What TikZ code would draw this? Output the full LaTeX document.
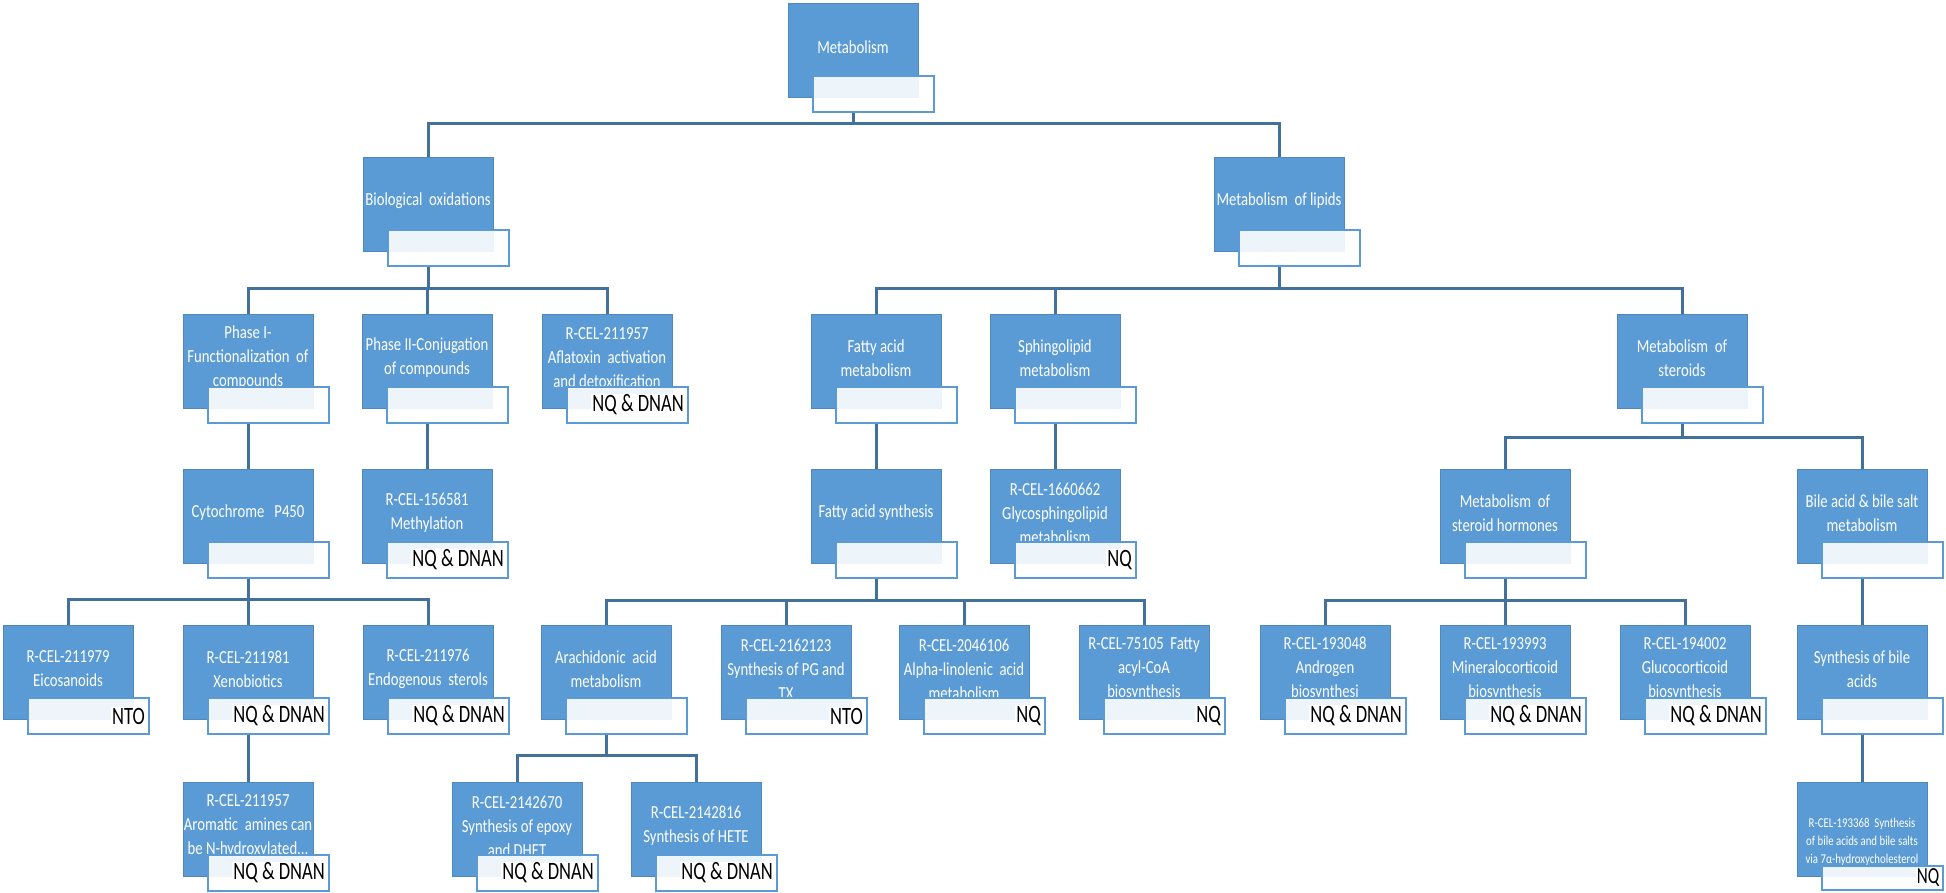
\documentclass[tikz,border=0pt]{standalone}
\usepackage{fontspec}
\setmainfont{Carlito}
\newfontfamily\bxfont[FakeStretch=0.8]{Carlito}
\newfontfamily\lbfont[FakeStretch=0.74]{Carlito}
\definecolor{boxblue}{RGB}{91,155,213}
\definecolor{lineblue}{RGB}{65,113,156}
\tikzset{
 bluebox/.style={fill=boxblue, draw=boxblue!88!black, line width=0.8pt, minimum width=130pt, minimum height=94pt, inner sep=0pt},
 btext/.style={text=white, align=center, font=\bxfont\fontsize{18.4}{24}\selectfont, inner sep=0pt},
 whitebox/.style={fill=white, fill opacity=0.9, draw=boxblue, line width=2.5pt, minimum width=121pt, minimum height=36pt, inner sep=0pt},
 lbl/.style={font=\lbfont\fontsize{25}{25}\selectfont, fill=white, text=black, inner sep=1pt, anchor=east},
 conn/.style={draw=lineblue, line width=3pt},
}
% [text options] name, centre x, top y, text, label
\newcommand\bxn[6][]{%
 \node[bluebox] (#2) at (#3,#4+47) {};
 \node[btext,#1] (#2-t) at (#3,#4+44) {#5};
 \node[whitebox] (#2-w) at (#3+20.5,#4+91) {};
 \if\relax\detokenize{#6}\relax\else
 \node[lbl] (#2-l) at (#3+78,#4+91) {#6};\fi
}
\newcommand\cn[3]{\draw[conn] (#1.center |- #1-w.south) -- (#1.center |- 0,#3) -| (#2.north);}
\begin{document}
\begin{tikzpicture}[x=1pt,y=-1pt]
\useasboundingbox (0,0) rectangle (1946,893);
% level 0
\bxn{met}{853}{3}{Metabolism}{}
% level 1
\bxn{bio}{428}{157}{Biological~~oxidations}{}
\bxn{lip}{1279}{157}{Metabolism~~of lipids}{}
% level 2
\bxn{ph1}{248}{314}{Phase I-\\Functionalization~~of\\compounds}{}
\bxn{ph2}{427}{314}{Phase II-Conjugation\\of compounds}{}
\bxn{afl}{607}{314}{R-CEL-211957\\Aflatoxin~~activation\\and detoxification}{NQ \& DNAN}
\bxn{fam}{876}{314}{Fatty acid\\metabolism}{}
\bxn{sph}{1055}{314}{Sphingolipid\\metabolism}{}
\bxn{ste}{1682}{314}{Metabolism~~of\\steroids}{}
% level 3
\bxn{cyt}{248}{469}{Cytochrome~~~P450}{}
\bxn{mty}{427}{469}{R-CEL-156581\\Methylation}{NQ \& DNAN}
\bxn{fas}{876}{469}{Fatty acid synthesis}{}
\bxn{gly}{1055}{469}{R-CEL-1660662\\Glycosphingolipid\\metabolism}{NQ}
\bxn{sth}{1505}{469}{Metabolism~~of\\steroid hormones}{}
\bxn{bil}{1862}{469}{Bile acid \& bile salt\\metabolism}{}
% level 4
\bxn{eic}{68}{625}{R-CEL-211979\\Eicosanoids}{NTO}
\bxn{xen}{248}{625}{R-CEL-211981\\Xenobiotics}{NQ \& DNAN}
\bxn{end}{428}{625}{R-CEL-211976\\Endogenous~~sterols}{NQ \& DNAN}
\bxn{ara}{606}{625}{Arachidonic~~acid\\metabolism}{}
\bxn{pg}{786}{625}{R-CEL-2162123\\Synthesis of PG and\\TX}{NTO}
\bxn{aln}{964}{625}{R-CEL-2046106\\Alpha-linolenic~~acid\\metabolism}{NQ}
\bxn{fac}{1144}{625}{R-CEL-75105~~Fatty\\acyl-CoA\\biosynthesis}{NQ}
\bxn{and}{1325}{625}{R-CEL-193048\\Androgen\\biosynthesi}{NQ \& DNAN}
\bxn{min}{1505}{625}{R-CEL-193993\\Mineralocorticoid\\biosynthesis}{NQ \& DNAN}
\bxn{glu}{1685}{625}{R-CEL-194002\\Glucocorticoid\\biosynthesis}{NQ \& DNAN}
\bxn{sba}{1862}{625}{Synthesis of bile\\acids}{}
% level 5
\bxn{aro}{248}{782}{R-CEL-211957\\Aromatic~~amines can\\be N-hydroxylated...}{NQ \& DNAN}
\bxn{epo}{517}{782}{R-CEL-2142670\\Synthesis of epoxy\\and DHET}{NQ \& DNAN}
\bxn{hete}{696}{782}{R-CEL-2142816\\Synthesis of HETE}{NQ \& DNAN}
% bile-salt leaf with a lower, thinner tag
\node[bluebox] (bsa) at (1862,829) {};
\node[btext, font=\bxfont\fontsize{13.5}{18}\selectfont] (bsa-t) at (1862,842) {R-CEL-193368~~Synthesis\\of bile acids and bile salts\\via 7α-hydroxycholesterol};
\node[whitebox, minimum height=24pt] (bsa-w) at (1882.5,878) {};
\node[lbl, font=\lbfont\fontsize{23}{23}\selectfont, inner sep=0.5pt] (bsa-l) at (1940,878) {NQ};
% connectors
\cn{met}{bio}{124}\cn{met}{lip}{124}
\cn{bio}{ph1}{289}\cn{bio}{ph2}{289}\cn{bio}{afl}{289}
\cn{lip}{fam}{289}\cn{lip}{sph}{289}\cn{lip}{ste}{289}
\cn{ph1}{cyt}{440}\cn{ph2}{mty}{440}\cn{fam}{fas}{440}\cn{sph}{gly}{440}
\cn{ste}{sth}{437}\cn{ste}{bil}{437}
\cn{cyt}{eic}{599}\cn{cyt}{xen}{599}\cn{cyt}{end}{599}
\cn{fas}{ara}{600}\cn{fas}{pg}{600}\cn{fas}{aln}{600}\cn{fas}{fac}{600}
\cn{sth}{and}{600}\cn{sth}{min}{600}\cn{sth}{glu}{600}
\cn{bil}{sba}{600}
\cn{xen}{aro}{755}
\cn{ara}{epo}{755}\cn{ara}{hete}{755}
\cn{sba}{bsa}{755}
\end{tikzpicture}
\end{document}
